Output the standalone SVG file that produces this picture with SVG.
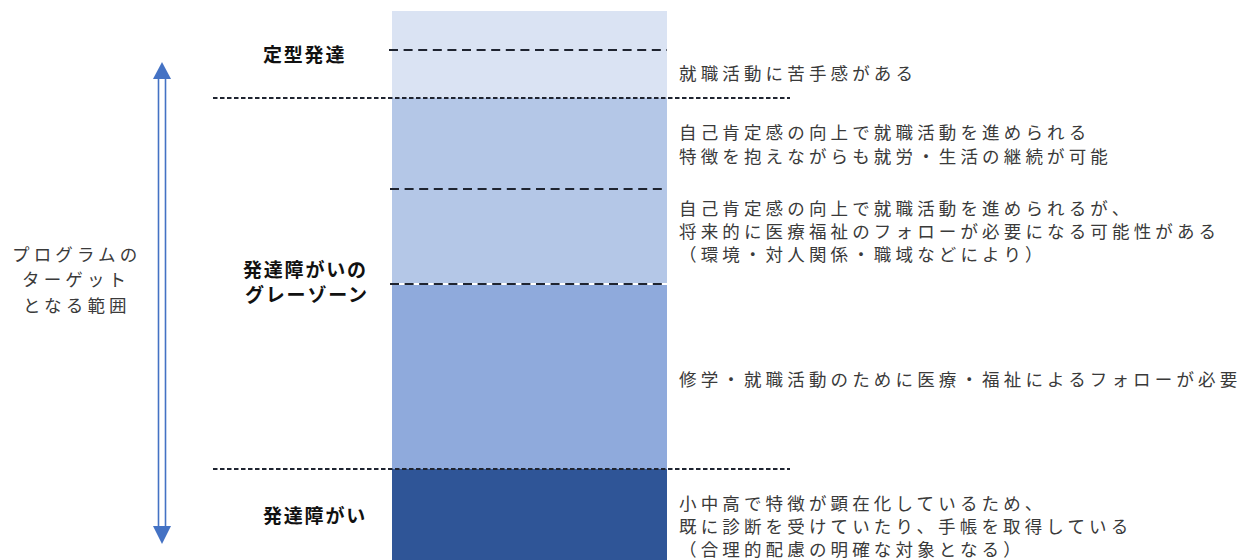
<svg xmlns="http://www.w3.org/2000/svg" width="1239" height="560" viewBox="0 0 1239 560">
<defs>
<style>
.t{font-family:"Noto Sans CJK JP","Noto Sans CJK SC",sans-serif;font-size:17.5px;letter-spacing:4.15px;fill:#3a3a3a}
.b{font-family:"Noto Sans CJK JP","Noto Sans CJK SC",sans-serif;font-size:19px;font-weight:bold;letter-spacing:1.8px;fill:#111}
.ds{stroke:#1f2430;stroke-width:2;stroke-dasharray:9 5.6;fill:none}
.dl{stroke:#1f2430;stroke-width:2;stroke-dasharray:4.5 2.5;fill:none}
.ar{fill:#4472c4}
</style>
</defs>
<rect width="1239" height="560" fill="#ffffff"/>
<g id="column">
<rect x="392" y="11" width="275" height="87" fill="#dae3f3"/>
<rect x="392" y="98" width="275" height="186" fill="#b4c7e7"/>
<rect x="392" y="284" width="275" height="185" fill="#8faadc"/>
<rect x="392" y="469" width="275" height="91" fill="#2f5597"/>
</g>
<g id="connectors">
<line class="ds" x1="389" y1="50" x2="667" y2="50"/>
<line class="dl" x1="213" y1="98" x2="790" y2="98"/>
<line class="ds" x1="390" y1="189" x2="667" y2="189"/>
<line x1="390" y1="284" x2="667" y2="284" stroke="#ffffff" stroke-width="2"/>
<line class="ds" x1="390" y1="284" x2="667" y2="284"/>
<line class="dl" x1="213" y1="469" x2="790" y2="469"/>
<g id="range-arrow">
<rect x="158.5" y="76" width="7" height="452" fill="#ffffff" stroke="#4472c4" stroke-width="1.6"/>
<polygon class="ar" points="162,62 153,79 171,79"/>
<polygon class="ar" points="162,544 153,526 171,526"/>
</g>
</g>
<g id="label-target">
<text class="t" x="12" y="261">プログラムの</text>
<text class="t" x="22" y="286">ターゲット</text>
<text class="t" x="23" y="312">となる範囲</text>
</g>
<g id="label-typical"><text class="b" x="263" y="62">定型発達</text></g>
<g id="label-gray">
<text class="b" x="243" y="277">発達障がいの</text>
<text class="b" x="245" y="302">グレーゾーン</text>
</g>
<g id="label-disorder"><text class="b" x="263" y="523">発達障がい</text></g>
<g id="desc-1"><text class="t" x="679" y="80">就職活動に苦手感がある</text></g>
<g id="desc-2">
<text class="t" x="679" y="139">自己肯定感の向上で就職活動を進められる</text>
<text class="t" x="679" y="163">特徴を抱えながらも就労・生活の継続が可能</text>
</g>
<g id="desc-3">
<text class="t" x="679" y="215">自己肯定感の向上で就職活動を進められるが、</text>
<text class="t" x="679" y="238">将来的に医療福祉のフォローが必要になる可能性がある</text>
<text class="t" x="679" y="261">（環境・対人関係・職域などにより）</text>
</g>
<g id="desc-4"><text class="t" x="679" y="386">修学・就職活動のために医療・福祉によるフォローが必要</text></g>
<g id="desc-5">
<text class="t" x="679" y="510">小中高で特徴が顕在化しているため、</text>
<text class="t" x="679" y="533">既に診断を受けていたり、手帳を取得している</text>
<text class="t" x="679" y="556">（合理的配慮の明確な対象となる）</text>
</g>
</svg>
